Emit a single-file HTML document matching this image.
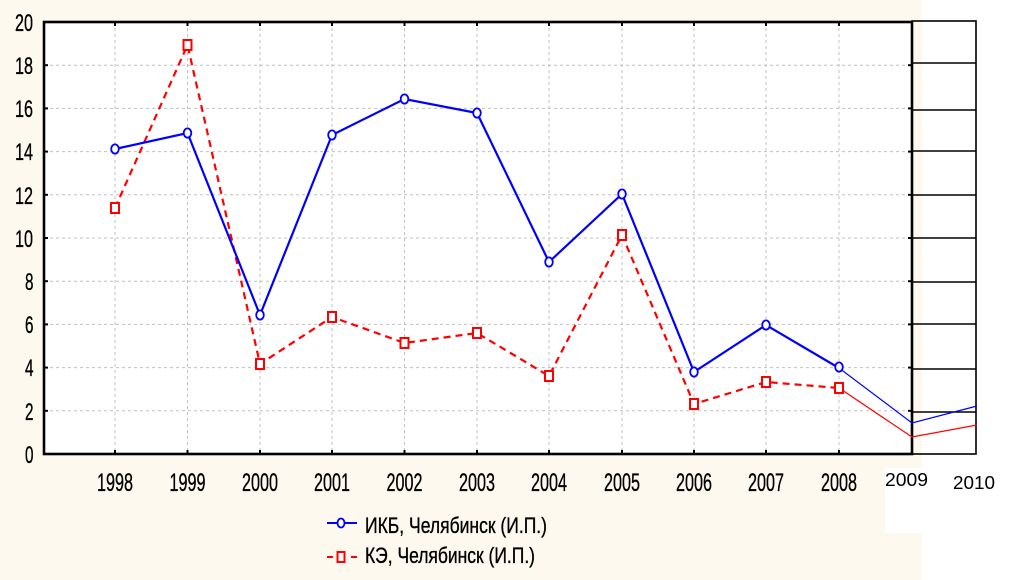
<!DOCTYPE html>
<html><head><meta charset="utf-8"><style>
html,body{margin:0;padding:0;background:#fff;}
svg{display:block;}
text{font-family:"Liberation Sans",sans-serif;fill:#000;}
.b{stroke:#000;stroke-width:0.35;}
</style></head><body>
<svg width="1025" height="580" viewBox="0 0 1025 580" xmlns="http://www.w3.org/2000/svg">
<rect x="0" y="0" width="1025" height="580" fill="#fff"/>
<rect x="0" y="0" width="922" height="580" fill="#fef9ee"/>
<rect x="885" y="468" width="37" height="65" fill="#fff"/>
<rect x="44" y="22" width="868" height="432" fill="#fff"/>

<g stroke="#c0c0c0" stroke-width="1" stroke-dasharray="3 3" fill="none">
<line x1="44" y1="65.2" x2="912" y2="65.2"/>
<line x1="44" y1="108.4" x2="912" y2="108.4"/>
<line x1="44" y1="151.6" x2="912" y2="151.6"/>
<line x1="44" y1="194.8" x2="912" y2="194.8"/>
<line x1="44" y1="238" x2="912" y2="238"/>
<line x1="44" y1="281.2" x2="912" y2="281.2"/>
<line x1="44" y1="324.4" x2="912" y2="324.4"/>
<line x1="44" y1="367.6" x2="912" y2="367.6"/>
<line x1="44" y1="410.8" x2="912" y2="410.8"/>
<line x1="115" y1="22" x2="115" y2="454"/>
<line x1="187.5" y1="22" x2="187.5" y2="454"/>
<line x1="260" y1="22" x2="260" y2="454"/>
<line x1="332" y1="22" x2="332" y2="454"/>
<line x1="404.5" y1="22" x2="404.5" y2="454"/>
<line x1="477" y1="22" x2="477" y2="454"/>
<line x1="549" y1="22" x2="549" y2="454"/>
<line x1="622" y1="22" x2="622" y2="454"/>
<line x1="694" y1="22" x2="694" y2="454"/>
<line x1="766" y1="22" x2="766" y2="454"/>
<line x1="839" y1="22" x2="839" y2="454"/>
</g>

<g stroke="#000" stroke-width="1.6" fill="none">
<rect x="912" y="21" width="64" height="433"/>
<line x1="912" y1="63" x2="976" y2="63"/>
<line x1="912" y1="110" x2="976" y2="110"/>
<line x1="912" y1="151" x2="976" y2="151"/>
<line x1="912" y1="195" x2="976" y2="195"/>
<line x1="912" y1="238" x2="976" y2="238"/>
<line x1="912" y1="282" x2="976" y2="282"/>
<line x1="912" y1="324" x2="976" y2="324"/>
<line x1="912" y1="369" x2="976" y2="369"/>
<line x1="912" y1="412" x2="976" y2="412"/>
</g>

<g stroke="#000" fill="none">
<rect x="44" y="22" width="868" height="432" stroke-width="2.6"/>
<g stroke-width="2">
<line x1="44" y1="65.2" x2="48" y2="65.2"/><line x1="44" y1="108.4" x2="48" y2="108.4"/>
<line x1="44" y1="151.6" x2="48" y2="151.6"/><line x1="44" y1="194.8" x2="48" y2="194.8"/>
<line x1="44" y1="238" x2="48" y2="238"/><line x1="44" y1="281.2" x2="48" y2="281.2"/>
<line x1="44" y1="324.4" x2="48" y2="324.4"/><line x1="44" y1="367.6" x2="48" y2="367.6"/>
<line x1="44" y1="410.8" x2="48" y2="410.8"/>
<line x1="908" y1="65.2" x2="912" y2="65.2"/><line x1="908" y1="108.4" x2="912" y2="108.4"/>
<line x1="908" y1="151.6" x2="912" y2="151.6"/><line x1="908" y1="194.8" x2="912" y2="194.8"/>
<line x1="908" y1="238" x2="912" y2="238"/><line x1="908" y1="281.2" x2="912" y2="281.2"/>
<line x1="908" y1="324.4" x2="912" y2="324.4"/><line x1="908" y1="367.6" x2="912" y2="367.6"/>
<line x1="908" y1="410.8" x2="912" y2="410.8"/>
<line x1="115" y1="22" x2="115" y2="26"/><line x1="187.5" y1="22" x2="187.5" y2="26"/>
<line x1="260" y1="22" x2="260" y2="26"/><line x1="332" y1="22" x2="332" y2="26"/>
<line x1="404.5" y1="22" x2="404.5" y2="26"/><line x1="477" y1="22" x2="477" y2="26"/>
<line x1="549" y1="22" x2="549" y2="26"/><line x1="622" y1="22" x2="622" y2="26"/>
<line x1="694" y1="22" x2="694" y2="26"/><line x1="766" y1="22" x2="766" y2="26"/>
<line x1="839" y1="22" x2="839" y2="26"/>
<line x1="115" y1="450" x2="115" y2="454"/><line x1="187.5" y1="450" x2="187.5" y2="454"/>
<line x1="260" y1="450" x2="260" y2="454"/><line x1="332" y1="450" x2="332" y2="454"/>
<line x1="404.5" y1="450" x2="404.5" y2="454"/><line x1="477" y1="450" x2="477" y2="454"/>
<line x1="549" y1="450" x2="549" y2="454"/><line x1="622" y1="450" x2="622" y2="454"/>
<line x1="694" y1="450" x2="694" y2="454"/><line x1="766" y1="450" x2="766" y2="454"/>
<line x1="839" y1="450" x2="839" y2="454"/>
</g>
</g>

<polyline points="839,368 912,423 977,406" fill="none" stroke="#0000ff" stroke-width="1.2"/>
<polyline points="839,388 912,437 977,425" fill="none" stroke="#ff0000" stroke-width="1.2"/>

<polyline points="115,208 187.5,45 260,364 332,317 404.5,343 477,333 549,376 622,235 694,404 766,382 839,388" fill="none" stroke="#ff0000" stroke-width="2.2" stroke-dasharray="7 5"/>
<polyline points="115,149 187.5,133 260,315 332,135 404.5,99 477,113 549,262 622,194 694,372 766,325 839,368" fill="none" stroke="#0000ff" stroke-width="2.2"/>

<g fill="#fff" stroke="#ff0000" stroke-width="2">
<rect x="111" y="203" width="8" height="10"/>
<rect x="183.5" y="40" width="8" height="10"/>
<rect x="256" y="359" width="8" height="10"/>
<rect x="328" y="312" width="8" height="10"/>
<rect x="400.5" y="338" width="8" height="10"/>
<rect x="473" y="328" width="8" height="10"/>
<rect x="545" y="371" width="8" height="10"/>
<rect x="618" y="230" width="8" height="10"/>
<rect x="690" y="399" width="8" height="10"/>
<rect x="762" y="377" width="8" height="10"/>
<rect x="835" y="383" width="8" height="10"/>
</g>
<g fill="#fff" stroke="#0000ff" stroke-width="1.8">
<ellipse cx="115" cy="149" rx="3.8" ry="4.6"/>
<ellipse cx="187.5" cy="133" rx="3.8" ry="4.6"/>
<ellipse cx="260" cy="315" rx="3.8" ry="4.6"/>
<ellipse cx="332" cy="135" rx="3.8" ry="4.6"/>
<ellipse cx="404.5" cy="99" rx="3.8" ry="4.6"/>
<ellipse cx="477" cy="113" rx="3.8" ry="4.6"/>
<ellipse cx="549" cy="262" rx="3.8" ry="4.6"/>
<ellipse cx="622" cy="194" rx="3.8" ry="4.6"/>
<ellipse cx="694" cy="372" rx="3.8" ry="4.6"/>
<ellipse cx="766" cy="325" rx="3.8" ry="4.6"/>
<ellipse cx="839" cy="367" rx="3.8" ry="4.6"/>
</g>

<g font-size="24" class="b">
<text x="15" y="31" textLength="18" lengthAdjust="spacingAndGlyphs">20</text>
<text x="15" y="74" textLength="18" lengthAdjust="spacingAndGlyphs">18</text>
<text x="15" y="117" textLength="18" lengthAdjust="spacingAndGlyphs">16</text>
<text x="15" y="160" textLength="18" lengthAdjust="spacingAndGlyphs">14</text>
<text x="15" y="204" textLength="18" lengthAdjust="spacingAndGlyphs">12</text>
<text x="15" y="247" textLength="18" lengthAdjust="spacingAndGlyphs">10</text>
<text x="25" y="290" textLength="8.5" lengthAdjust="spacingAndGlyphs">8</text>
<text x="25" y="333" textLength="8.5" lengthAdjust="spacingAndGlyphs">6</text>
<text x="25" y="376" textLength="8.5" lengthAdjust="spacingAndGlyphs">4</text>
<text x="25" y="420" textLength="8.5" lengthAdjust="spacingAndGlyphs">2</text>
<text x="25" y="463" textLength="8.5" lengthAdjust="spacingAndGlyphs">0</text>
</g>

<g font-size="25" class="b">
<text x="97" y="491" textLength="36" lengthAdjust="spacingAndGlyphs">1998</text>
<text x="169.5" y="491" textLength="36" lengthAdjust="spacingAndGlyphs">1999</text>
<text x="242" y="491" textLength="36" lengthAdjust="spacingAndGlyphs">2000</text>
<text x="314" y="491" textLength="36" lengthAdjust="spacingAndGlyphs">2001</text>
<text x="386.5" y="491" textLength="36" lengthAdjust="spacingAndGlyphs">2002</text>
<text x="459" y="491" textLength="36" lengthAdjust="spacingAndGlyphs">2003</text>
<text x="531" y="491" textLength="36" lengthAdjust="spacingAndGlyphs">2004</text>
<text x="604" y="491" textLength="36" lengthAdjust="spacingAndGlyphs">2005</text>
<text x="676" y="491" textLength="36" lengthAdjust="spacingAndGlyphs">2006</text>
<text x="748" y="491" textLength="36" lengthAdjust="spacingAndGlyphs">2007</text>
<text x="821" y="491" textLength="36" lengthAdjust="spacingAndGlyphs">2008</text>
</g>
<text x="885" y="486" font-size="18" textLength="43" lengthAdjust="spacingAndGlyphs">2009</text>
<text x="953" y="489" font-size="18" textLength="42" lengthAdjust="spacingAndGlyphs">2010</text>

<line x1="327" y1="523" x2="357" y2="523" stroke="#0000ff" stroke-width="2"/>
<ellipse cx="341" cy="523" rx="3.5" ry="4.5" fill="#fff" stroke="#0000ff" stroke-width="1.8"/>
<text x="365" y="533" font-size="22" class="b" textLength="182" lengthAdjust="spacingAndGlyphs">ИКБ, Челябинск (И.П.)</text>
<line x1="327" y1="557" x2="333" y2="557" stroke="#ff0000" stroke-width="2"/>
<line x1="351" y1="557" x2="357" y2="557" stroke="#ff0000" stroke-width="2"/>
<rect x="337.5" y="552" width="7" height="10" fill="#fff" stroke="#ff0000" stroke-width="2"/>
<text x="365" y="563" font-size="22" class="b" textLength="170" lengthAdjust="spacingAndGlyphs">КЭ, Челябинск (И.П.)</text>
</svg>
</body></html>
